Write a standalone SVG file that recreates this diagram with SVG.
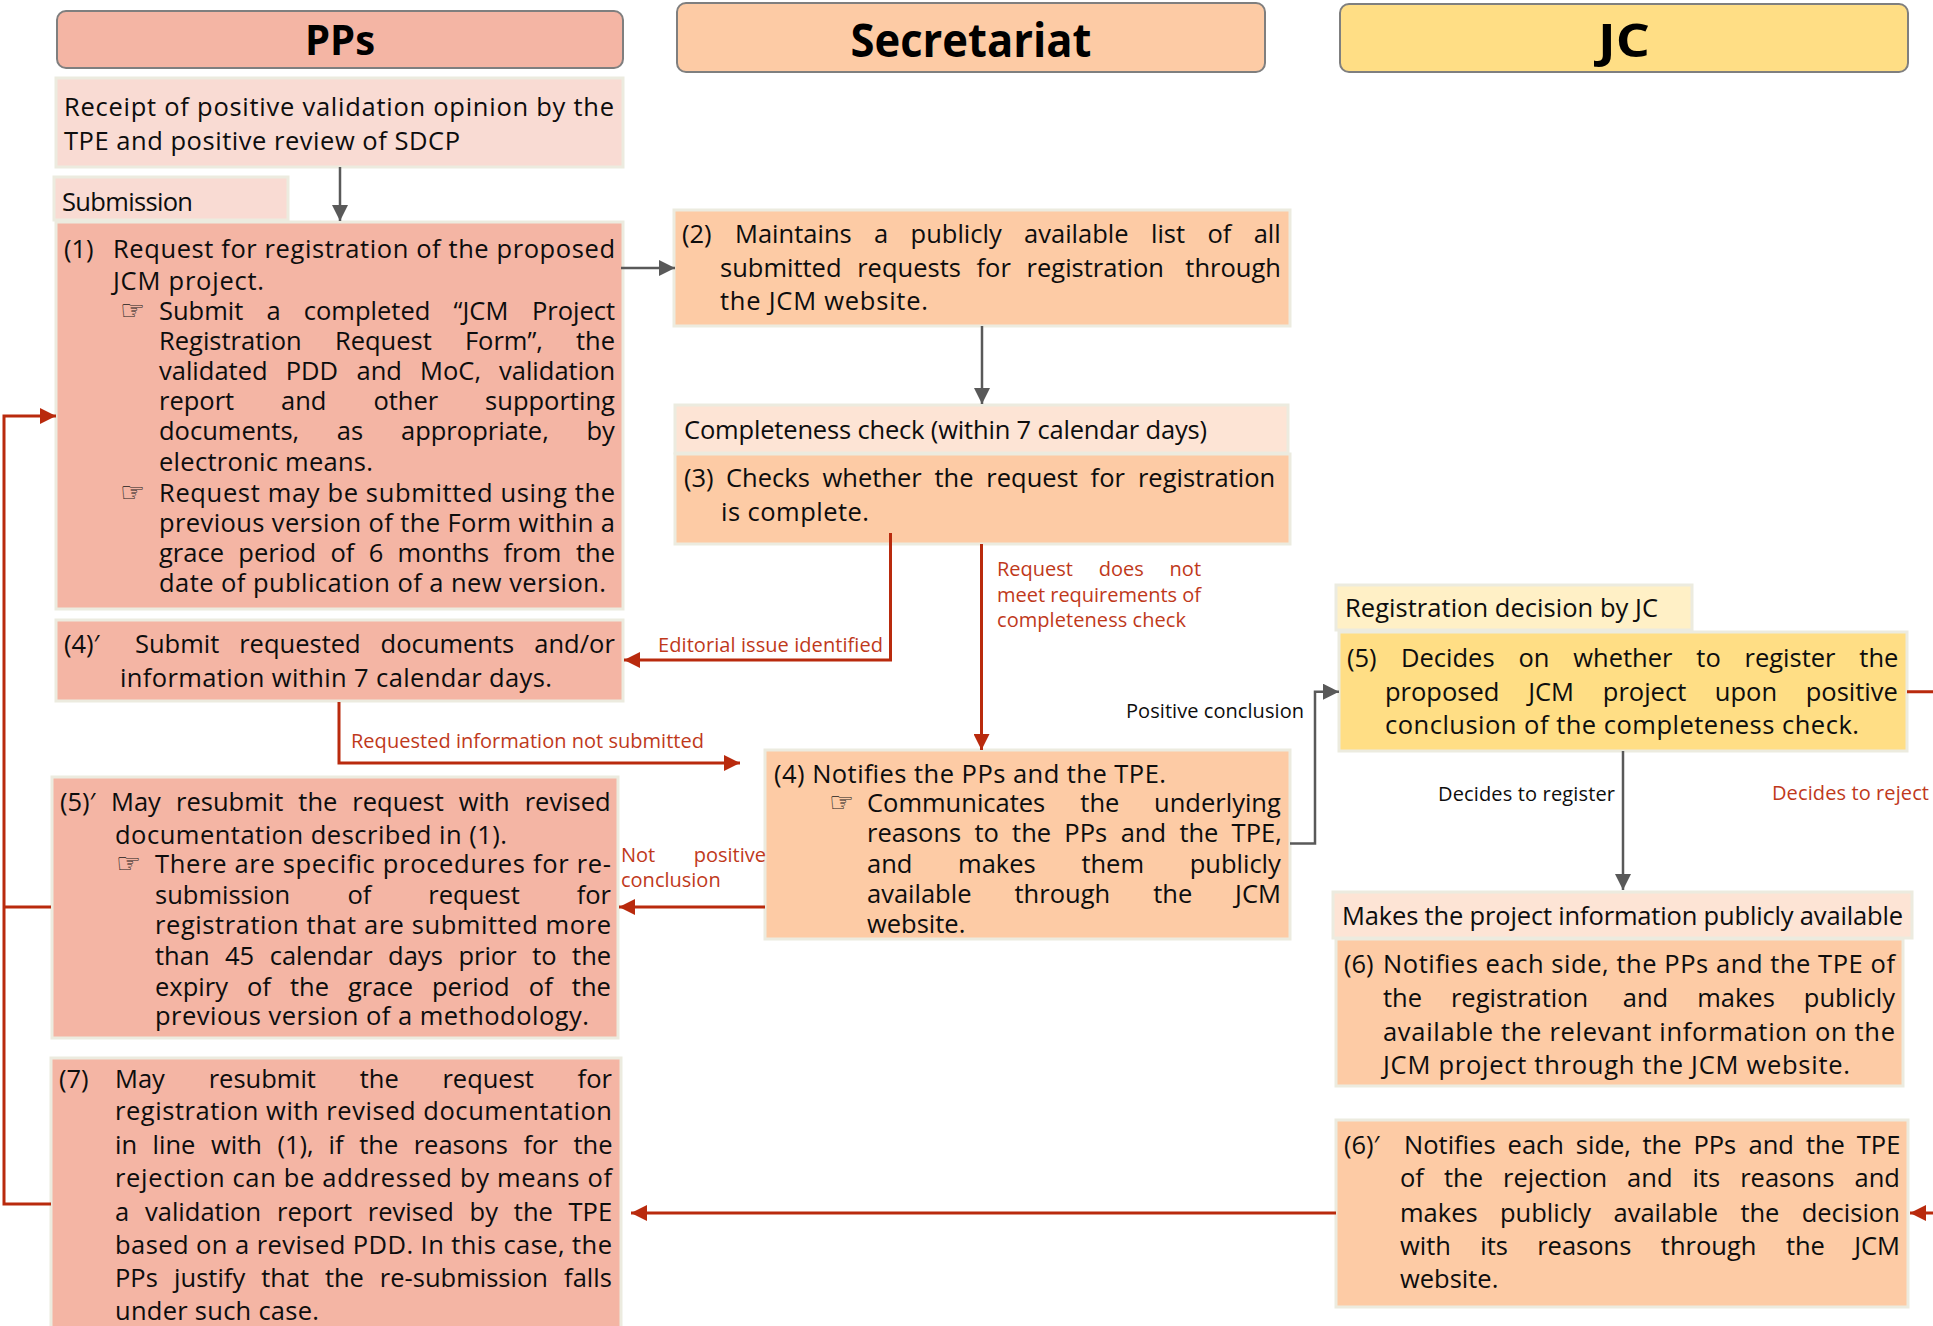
<svg xmlns="http://www.w3.org/2000/svg" width="1933" height="1326" viewBox="0 0 1933 1326">
<style>
.t{font-family:"Open Sans","Noto Sans","DejaVu Sans",sans-serif;font-size:25.5px;fill:#0d0d0d}
.l{font-size:20px}
.red{fill:#c0391b}
.hd{font-family:"Open Sans","Noto Sans","DejaVu Sans",sans-serif;font-weight:700;fill:#000}
.bul{font-family:"DejaVu Sans",sans-serif;font-size:28px;fill:#1a1a1a}
.bx{stroke:#ecebdf;stroke-width:3}
.hb{stroke:#7f7f7f;stroke-width:2}
.pp{fill:#f4b5a4}.ppl{fill:#f9dbd3}.se{fill:#fdcba5}.sel{fill:#fde4d5}.jc{fill:#ffde85}.jcl{fill:#fff0c6}
.cg{fill:none;stroke:#595959;stroke-width:2.5}
.cr{fill:none;stroke:#b92a0d;stroke-width:3}
</style>
<defs>
<marker id="ag" markerUnits="userSpaceOnUse" markerWidth="17" markerHeight="16" refX="16" refY="8" orient="auto"><path d="M0,0 L16,8 L0,16 Z" fill="#595959"/></marker>
<marker id="ar" markerUnits="userSpaceOnUse" markerWidth="17" markerHeight="16" refX="16" refY="8" orient="auto"><path d="M0,0 L16,8 L0,16 Z" fill="#b92a0d"/></marker>
</defs>
<rect width="1933" height="1326" fill="#fff"/>

<g id="hdr-pps"><rect class="pp hb" x="57" y="11" width="566" height="57" rx="9"/><text class="hd" x="340" y="55" style="font-size:42px" text-anchor="middle" textLength="70" lengthAdjust="spacingAndGlyphs">PPs</text></g>
<g id="hdr-sec"><rect class="se hb" x="677" y="3" width="588" height="69" rx="9"/><text class="hd" x="971" y="57" style="font-size:46px" text-anchor="middle" textLength="241" lengthAdjust="spacingAndGlyphs">Secretariat</text></g>
<g id="hdr-jc"><rect class="jc hb" x="1340" y="4" width="568" height="68" rx="9"/><text class="hd" x="1624" y="57" style="font-size:46px" text-anchor="middle" textLength="52" lengthAdjust="spacingAndGlyphs">JC</text></g>

<g id="receipt"><rect class="ppl bx" x="56" y="78" width="567" height="89"/>
<text class="t" x="64" y="116" textLength="550" lengthAdjust="spacing">Receipt of positive validation opinion by the</text>
<text class="t" x="64" y="150" textLength="396" lengthAdjust="spacing">TPE and positive review of SDCP</text></g>

<g id="submission-label"><rect class="ppl bx" x="54" y="177" width="234" height="43"/><text class="t" x="62" y="211" textLength="131" lengthAdjust="spacing">Submission</text></g>

<g id="n1"><rect class="pp bx" x="56" y="222" width="567" height="387"/>
<text class="t" x="64" y="258">(1)</text>
<text class="t" x="113" y="258" textLength="502" lengthAdjust="spacing">Request for registration of the proposed</text>
<text class="t" x="113" y="290" textLength="151" lengthAdjust="spacing">JCM project.</text>
<text class="bul" x="120" y="320">☞</text>
<text class="t" y="320"><tspan x="159">Submit</tspan><tspan x="266.4">a</tspan><tspan x="303.8">completed</tspan><tspan x="453.6">“JCM</tspan><tspan x="531.9">Project</tspan></text>
<text class="t" y="350"><tspan x="159">Registration</tspan><tspan x="334.9">Request</tspan><tspan x="464.9">Form”,</tspan><tspan x="576">the</tspan></text>
<text class="t" y="380"><tspan x="159">validated</tspan><tspan x="285.7">PDD</tspan><tspan x="356.5">and</tspan><tspan x="420.1">MoC,</tspan><tspan x="499">validation</tspan></text>
<text class="t" y="410"><tspan x="159">report</tspan><tspan x="281">and</tspan><tspan x="373.4">other</tspan><tspan x="485.1">supporting</tspan></text>
<text class="t" y="440"><tspan x="159">documents,</tspan><tspan x="336.8">as</tspan><tspan x="401">appropriate,</tspan><tspan x="586.4">by</tspan></text>
<text class="t" x="159" y="471" textLength="214" lengthAdjust="spacing">electronic means.</text>
<text class="bul" x="120" y="502">☞</text>
<text class="t" x="159" y="502" textLength="456" lengthAdjust="spacing">Request may be submitted using the</text>
<text class="t" x="159" y="532" textLength="456" lengthAdjust="spacing">previous version of the Form within a</text>
<text class="t" y="562"><tspan x="159">grace</tspan><tspan x="238.3">period</tspan><tspan x="330.4">of</tspan><tspan x="368.7">6</tspan><tspan x="397.6">months</tspan><tspan x="503.5">from</tspan><tspan x="576">the</tspan></text>
<text class="t" x="159" y="592" textLength="447" lengthAdjust="spacing">date of publication of a new version.</text></g>

<g id="n4p"><rect class="pp bx" x="56" y="620" width="567" height="81"/>
<text class="t" x="64" y="653">(4)′</text>
<text class="t" y="653"><tspan x="135">Submit</tspan><tspan x="239.2">requested</tspan><tspan x="380.6">documents</tspan><tspan x="534.3">and/or</tspan></text>
<text class="t" x="120" y="687" textLength="432" lengthAdjust="spacing">information within 7 calendar days.</text></g>

<g id="n5p"><rect class="pp bx" x="52" y="777" width="566" height="261"/>
<text class="t" x="60" y="811">(5)′</text>
<text class="t" y="811"><tspan x="111">May</tspan><tspan x="176">resubmit</tspan><tspan x="298.3">the</tspan><tspan x="352.3">request</tspan><tspan x="458.8">with</tspan><tspan x="524.7">revised</tspan></text>
<text class="t" x="115" y="844" textLength="392" lengthAdjust="spacing">documentation described in (1).</text>
<text class="bul" x="116" y="873">☞</text>
<text class="t" x="155" y="873" textLength="456" lengthAdjust="spacing">There are specific procedures for re-</text>
<text class="t" y="904"><tspan x="155">submission</tspan><tspan x="347.4">of</tspan><tspan x="428.3">request</tspan><tspan x="576.7">for</tspan></text>
<text class="t" x="155" y="934" textLength="456" lengthAdjust="spacing">registration that are submitted more</text>
<text class="t" y="965"><tspan x="155">than</tspan><tspan x="225">45</tspan><tspan x="269.7">calendar</tspan><tspan x="388.1">days</tspan><tspan x="458.4">prior</tspan><tspan x="532.2">to</tspan><tspan x="572.1">the</tspan></text>
<text class="t" y="996"><tspan x="155">expiry</tspan><tspan x="247">of</tspan><tspan x="290">the</tspan><tspan x="348">grace</tspan><tspan x="432">period</tspan><tspan x="528.8">of</tspan><tspan x="571.8">the</tspan></text>
<text class="t" x="155" y="1025" textLength="434" lengthAdjust="spacing">previous version of a methodology.</text></g>

<g id="n7"><rect class="pp bx" x="51" y="1058" width="570" height="280"/>
<text class="t" x="59" y="1088">(7)</text>
<text class="t" y="1088"><tspan x="115">May</tspan><tspan x="208.7">resubmit</tspan><tspan x="359.7">the</tspan><tspan x="442.4">request</tspan><tspan x="577.6">for</tspan></text>
<text class="t" x="115" y="1120" textLength="497" lengthAdjust="spacing">registration with revised documentation</text>
<text class="t" y="1154"><tspan x="115">in</tspan><tspan x="152.6">line</tspan><tspan x="211">with</tspan><tspan x="277.5">(1),</tspan><tspan x="328.6">if</tspan><tspan x="359.2">the</tspan><tspan x="413.7">reasons</tspan><tspan x="523.5">for</tspan><tspan x="573.5">the</tspan></text>
<text class="t" x="115" y="1187" textLength="497" lengthAdjust="spacing">rejection can be addressed by means of</text>
<text class="t" y="1221"><tspan x="115">a</tspan><tspan x="145">validation</tspan><tspan x="277">report</tspan><tspan x="367.8">revised</tspan><tspan x="469.6">by</tspan><tspan x="513.8">the</tspan><tspan x="568.5">TPE</tspan></text>
<text class="t" x="115" y="1254" textLength="497" lengthAdjust="spacing">based on a revised PDD. In this case, the</text>
<text class="t" y="1287"><tspan x="115">PPs</tspan><tspan x="174.1">justify</tspan><tspan x="261.2">that</tspan><tspan x="324.9">the</tspan><tspan x="379.8">re-submission</tspan><tspan x="564.1">falls</tspan></text>
<text class="t" x="115" y="1320" textLength="204" lengthAdjust="spacing">under such case.</text></g>

<g id="n2"><rect class="se bx" x="674" y="210" width="616" height="116"/>
<text class="t" x="682" y="243">(2)</text>
<text class="t" y="243"><tspan x="735">Maintains</tspan><tspan x="874.1">a</tspan><tspan x="910.6">publicly</tspan><tspan x="1024.1">available</tspan><tspan x="1151">list</tspan><tspan x="1207.4">of</tspan><tspan x="1253.7">all</tspan></text>
<text class="t" y="277"><tspan x="720">submitted</tspan><tspan x="857.2">requests</tspan><tspan x="976.5">for</tspan><tspan x="1026.6">registration</tspan><tspan x="1185.3">through</tspan></text>
<text class="t" x="720" y="310" textLength="208" lengthAdjust="spacing">the JCM website.</text></g>

<g id="completeness-label"><rect class="sel bx" x="675" y="405" width="613" height="48"/><text class="t" x="684" y="439" textLength="523" lengthAdjust="spacing">Completeness check (within 7 calendar days)</text></g>

<g id="n3"><rect class="se bx" x="675" y="454" width="615" height="90"/>
<text class="t" x="684" y="487">(3)</text>
<text class="t" y="487"><tspan x="726">Checks</tspan><tspan x="822.5">whether</tspan><tspan x="934.5">the</tspan><tspan x="986.3">request</tspan><tspan x="1090.6">for</tspan><tspan x="1137.9">registration</tspan></text>
<text class="t" x="721" y="521" textLength="148" lengthAdjust="spacing">is complete.</text></g>

<g id="n4"><rect class="se bx" x="765" y="750" width="525" height="189"/>
<text class="t" x="774" y="783" textLength="392" lengthAdjust="spacing">(4) Notifies the PPs and the TPE.</text>
<text class="bul" x="829" y="812">☞</text>
<text class="t" y="812"><tspan x="867">Communicates</tspan><tspan x="1080.3">the</tspan><tspan x="1154.1">underlying</tspan></text>
<text class="t" y="842"><tspan x="867">reasons</tspan><tspan x="974.5">to</tspan><tspan x="1012.1">the</tspan><tspan x="1064.3">PPs</tspan><tspan x="1120.7">and</tspan><tspan x="1179.4">the</tspan><tspan x="1231.6">TPE,</tspan></text>
<text class="t" y="873"><tspan x="867">and</tspan><tspan x="958.1">makes</tspan><tspan x="1081.4">them</tspan><tspan x="1189.7">publicly</tspan></text>
<text class="t" y="903"><tspan x="867">available</tspan><tspan x="1014.5">through</tspan><tspan x="1153.2">the</tspan><tspan x="1235.1">JCM</tspan></text>
<text class="t" x="867" y="933">website.</text></g>

<g id="decision-label"><rect class="jcl bx" x="1336" y="585" width="356" height="45"/><text class="t" x="1345" y="617" textLength="313" lengthAdjust="spacing">Registration decision by JC</text></g>

<g id="n5"><rect class="jc bx" x="1339" y="632" width="568" height="119"/>
<text class="t" x="1347" y="667">(5)</text>
<text class="t" y="667"><tspan x="1401">Decides</tspan><tspan x="1518.4">on</tspan><tspan x="1573.3">whether</tspan><tspan x="1696.3">to</tspan><tspan x="1744.5">register</tspan><tspan x="1859.3">the</tspan></text>
<text class="t" y="701"><tspan x="1385">proposed</tspan><tspan x="1528.2">JCM</tspan><tspan x="1602.8">project</tspan><tspan x="1714.8">upon</tspan><tspan x="1805.7">positive</tspan></text>
<text class="t" x="1385" y="734" textLength="474" lengthAdjust="spacing">conclusion of the completeness check.</text></g>

<g id="makes-label"><rect class="sel bx" x="1333" y="892" width="579" height="46"/><text class="t" x="1342" y="925" textLength="561" lengthAdjust="spacing">Makes the project information publicly available</text></g>

<g id="n6"><rect class="se bx" x="1336" y="939" width="567" height="147"/>
<text class="t" x="1344" y="973">(6)</text>
<text class="t" x="1383" y="973" textLength="512" lengthAdjust="spacing">Notifies each side, the PPs and the TPE of</text>
<text class="t" y="1007"><tspan x="1383">the</tspan><tspan x="1450.9">registration</tspan><tspan x="1622.8">and</tspan><tspan x="1697.2">makes</tspan><tspan x="1803.8">publicly</tspan></text>
<text class="t" x="1383" y="1041" textLength="512" lengthAdjust="spacing">available the relevant information on the</text>
<text class="t" x="1383" y="1074" textLength="467" lengthAdjust="spacing">JCM project through the JCM website.</text></g>

<g id="n6p"><rect class="se bx" x="1336" y="1120" width="572" height="187"/>
<text class="t" x="1344" y="1154">(6)′</text>
<text class="t" y="1154"><tspan x="1404">Notifies</tspan><tspan x="1507.6">each</tspan><tspan x="1575.8">side,</tspan><tspan x="1642.5">the</tspan><tspan x="1693.4">PPs</tspan><tspan x="1748.5">and</tspan><tspan x="1805.9">the</tspan><tspan x="1856.8">TPE</tspan></text>
<text class="t" y="1187"><tspan x="1400">of</tspan><tspan x="1444">the</tspan><tspan x="1503">rejection</tspan><tspan x="1627.1">and</tspan><tspan x="1692.6">its</tspan><tspan x="1740.2">reasons</tspan><tspan x="1854.5">and</tspan></text>
<text class="t" y="1222"><tspan x="1400">makes</tspan><tspan x="1500">publicly</tspan><tspan x="1613.5">available</tspan><tspan x="1740.4">the</tspan><tspan x="1801.7">decision</tspan></text>
<text class="t" y="1255"><tspan x="1400">with</tspan><tspan x="1480.3">its</tspan><tspan x="1537.2">reasons</tspan><tspan x="1660.8">through</tspan><tspan x="1785.9">the</tspan><tspan x="1854.2">JCM</tspan></text>
<text class="t" x="1400" y="1288">website.</text></g>

<g id="connectors">
<path class="cg" d="M340,167 V221" marker-end="url(#ag)"/>
<path class="cg" d="M621,268 H675" marker-end="url(#ag)"/>
<path class="cg" d="M982,326 V404" marker-end="url(#ag)"/>
<path class="cr" d="M890.5,533 V660 H624" marker-end="url(#ar)"/>
<path class="cr" d="M981.5,544 V750" marker-end="url(#ar)"/>
<path class="cr" d="M339,702 V763 H740" marker-end="url(#ar)"/>
<path class="cr" d="M765,907 H619" marker-end="url(#ar)"/>
<path class="cg" d="M1290,843.5 H1315 V691.7 H1339" marker-end="url(#ag)"/>
<path class="cg" d="M1623,751 V890" marker-end="url(#ag)"/>
<path class="cr" d="M1907,691.7 H1950 V1213 H1910" marker-end="url(#ar)"/>
<path class="cr" d="M1336,1213 H631" marker-end="url(#ar)"/>
<path class="cr" d="M51,1204 H4 V416 H56" marker-end="url(#ar)"/>
<path class="cr" d="M51,907 H4"/>
<text class="t l red" x="658" y="652" textLength="225" lengthAdjust="spacing">Editorial issue identified</text>
<text class="t l red" y="576"><tspan x="997">Request</tspan><tspan x="1098.8">does</tspan><tspan x="1169.6">not</tspan></text>
<text class="t l red" x="997" y="602" textLength="204" lengthAdjust="spacing">meet requirements of</text>
<text class="t l red" x="997" y="627" textLength="189" lengthAdjust="spacing">completeness check</text>
<text class="t l red" x="351" y="748" textLength="353" lengthAdjust="spacing">Requested information not submitted</text>
<text class="t l red" y="862"><tspan x="621">Not</tspan><tspan x="693.7">positive</tspan></text>
<text class="t l red" x="621" y="887">conclusion</text>
<text class="t l" x="1126" y="718" textLength="178" lengthAdjust="spacing">Positive conclusion</text>
<text class="t l" x="1438" y="801" textLength="177" lengthAdjust="spacing">Decides to register</text>
<text class="t l red" x="1772" y="800" textLength="157" lengthAdjust="spacing">Decides to reject</text>
</g>
</svg>
